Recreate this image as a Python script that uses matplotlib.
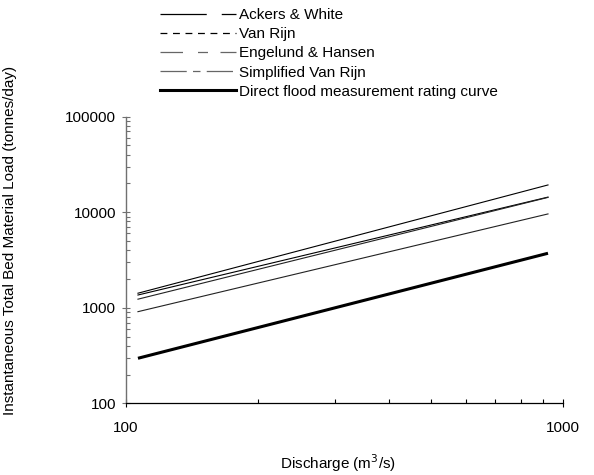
import matplotlib
matplotlib.use("Agg")
import matplotlib.pyplot as plt
from matplotlib.lines import Line2D
from matplotlib.ticker import LogLocator, NullFormatter, FixedLocator, FixedFormatter

plt.rcParams['font.family'] = ['Liberation Sans', 'DejaVu Sans']

# Data (discharge end points, m3/s) and loads (tonnes/day)
discharge = [106.5, 924.0]
ackers_white = [1420, 19300]
van_rijn = [1360, 14400]
engelund_hansen = [1230, 14300]
simplified_van_rijn = [910, 9600]
direct_flood = [296, 3720]

series_labels = ["Ackers & White", "Van Rijn", "Engelund & Hansen",
                 "Simplified Van Rijn", "Direct flood measurement rating curve"]
x_ticks = [100, 1000]
y_ticks = [100, 1000, 10000, 100000]

FS = 11

fig = plt.figure(figsize=(5.94, 4.75), dpi=100)
ax = fig.add_axes([126/594, 1-403.3/475, 437/594, (403.3-116.7)/475])

ax.plot(discharge, ackers_white, color='black', lw=0.8)
ax.plot(discharge, van_rijn, color='black', lw=0.8)
ax.plot(discharge, engelund_hansen, color='#222222', lw=0.8)
ax.plot(discharge, simplified_van_rijn, color='#222222', lw=0.8)
ax.plot(discharge, direct_flood, color='black', lw=2.2, solid_capstyle='butt')

ax.set_xscale('log')
ax.set_yscale('log')
ax.set_xlim(100, 1000)
ax.set_ylim(100, 100000)

ax.xaxis.set_major_locator(FixedLocator(x_ticks))
ax.xaxis.set_major_formatter(FixedFormatter([str(v) for v in x_ticks]))
ax.yaxis.set_major_locator(FixedLocator(y_ticks))
ax.yaxis.set_major_formatter(FixedFormatter([str(v) for v in y_ticks]))
ax.xaxis.set_minor_locator(LogLocator(base=10, subs=range(2, 10)))
ax.yaxis.set_minor_locator(LogLocator(base=10, subs=range(2, 10)))
ax.xaxis.set_minor_formatter(NullFormatter())
ax.yaxis.set_minor_formatter(NullFormatter())

for s in ['top', 'right']:
    ax.spines[s].set_visible(False)
ax.spines['left'].set_color('#707070')
ax.spines['bottom'].set_color('black')
ax.spines['left'].set_linewidth(1.0)
ax.spines['bottom'].set_linewidth(0.9)

ax.tick_params(axis='x', which='major', direction='inout', length=6, width=0.8,
               labelsize=FS, pad=10, colors='black')
ax.tick_params(axis='x', which='minor', direction='in', length=3, width=0.8)
ax.tick_params(axis='y', which='major', direction='inout', length=6, width=0.8,
               labelsize=FS, pad=4, color='#707070', labelcolor='black')
ax.tick_params(axis='y', which='minor', direction='in', length=3, width=0.8, color='#707070')

fig.text(338/594, 1-463/475, "Discharge (m$^3$/s)", ha='center', va='center', fontsize=FS)
fig.text(10/594, 1-240/475, "Instantaneous Total Bed Material Load (tonnes/day)",
         ha='center', va='center', rotation=90, fontsize=FS)

handles = [
    Line2D([], [], color='black', lw=0.9, dashes=(37, 12)),
    Line2D([], [], color='black', lw=0.9, dashes=(5.5, 4.5)),
    Line2D([], [], color='#666666', lw=0.9, dashes=(18, 12, 8, 10)),
    Line2D([], [], color='#666666', lw=0.9, dashes=(21, 5, 6, 5)),
    Line2D([], [], color='black', lw=2.2),
]
leg = fig.legend(handles, series_labels, loc='upper left',
                 bbox_to_anchor=(160/594, 1-8/475), frameon=False,
                 borderpad=0, borderaxespad=0, handlelength=5.0,
                 handletextpad=0.2, labelspacing=0.34, fontsize=FS)

fig.savefig("out.png", dpi=100)
